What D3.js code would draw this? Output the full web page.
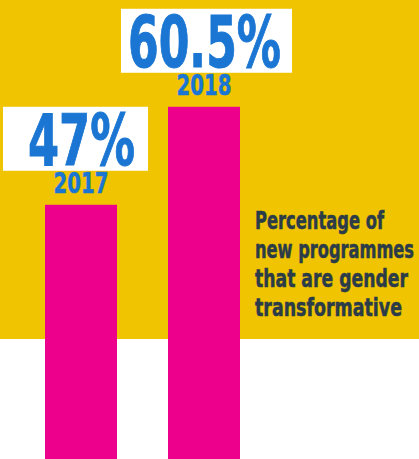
<!DOCTYPE html>
<html>
<head>
<meta charset="utf-8">
<script src="https://cdn.jsdelivr.net/npm/d3@7"></script>
<style>
  body { margin: 0; background: #fff; }
  svg { display: block; }
  text { font-family: "Liberation Sans Narrow", "DejaVu Sans Condensed", "Roboto", sans-serif; font-weight: bold; }
</style>
</head>
<body>
<div id="chart"></div>
<script>
const years = ["2017", "2018"];
const values = [47, 60.5];
const valueLabels = ["47%", "60.5%"];
const caption = ["Percentage of", "new programmes", "that are gender", "transformative"];

let width = 419;
let height = 459;
let yellow = "#f0c400";
let magenta = "#ec008c";
let blue = "#1a76d2";
let dark = "#2b3c48";

let svg = d3.select("#chart").append("svg")
  .attr("width", width)
  .attr("height", height);

/* background: yellow band on top, white below */
svg.append("rect")
  .attr("x", 0).attr("y", 0)
  .attr("width", width).attr("height", 339)
  .attr("fill", yellow);

let x = d3.scaleBand()
  .domain(years)
  .range([45, 240])
  .paddingInner(51 / 123)
  .paddingOuter(0);

// baseline sits below the visible area
let y = d3.scaleLinear().domain([0, 100]).range([546, -180]);

let barW = x.bandwidth();
let cx = d => x(d) + barW / 2;

svg.selectAll(".bar")
  .data(years).enter()
  .append("rect")
  .attr("class", "bar")
  .attr("x", d => x(d))
  .attr("y", (d, i) => y(values[i]))
  .attr("width", barW)
  .attr("height", (d, i) => y(0) - y(values[i]))
  .attr("fill", magenta);

/* value labels in white boxes */
let boxes = [
  { x: 3, w: 145, tx: 28, tw: 107 },
  { x: 121, w: 171, tx: 128, tw: 153 }
];

let labels = svg.selectAll(".label")
  .data(years).enter()
  .append("g")
  .attr("class", "label");

labels.append("rect")
  .attr("x", (d, i) => boxes[i].x)
  .attr("y", (d, i) => y(values[i]) - 98)
  .attr("width", (d, i) => boxes[i].w)
  .attr("height", 64)
  .attr("fill", "#fff");

labels.append("text")
  .attr("x", (d, i) => boxes[i].tx)
  .attr("y", (d, i) => y(values[i]) - 40)
  .attr("font-size", 72)
  .attr("textLength", (d, i) => boxes[i].tw)
  .attr("lengthAdjust", "spacingAndGlyphs")
  .attr("fill", blue)
  .attr("stroke", blue)
  .attr("stroke-width", 1)
  .text((d, i) => valueLabels[i]);

labels.append("text")
  .attr("x", d => cx(d))
  .attr("y", (d, i) => y(values[i]) - 12)
  .attr("text-anchor", "middle")
  .attr("font-size", 29)
  .attr("textLength", 55)
  .attr("lengthAdjust", "spacingAndGlyphs")
  .attr("fill", blue)
  .attr("stroke", blue)
  .attr("stroke-width", 0.5)
  .text(d => d);

/* caption */
let capWidths = [129, 159, 153, 147];
svg.append("g")
  .selectAll("text")
  .data(caption).enter()
  .append("text")
  .attr("x", 255)
  .attr("y", (d, i) => 229 + i * 29)
  .attr("font-size", 25)
  .attr("textLength", (d, i) => capWidths[i])
  .attr("lengthAdjust", "spacingAndGlyphs")
  .attr("fill", dark)
  .attr("stroke", dark)
  .attr("stroke-width", 0.5)
  .text(d => d);
</script>
</body>
</html>
